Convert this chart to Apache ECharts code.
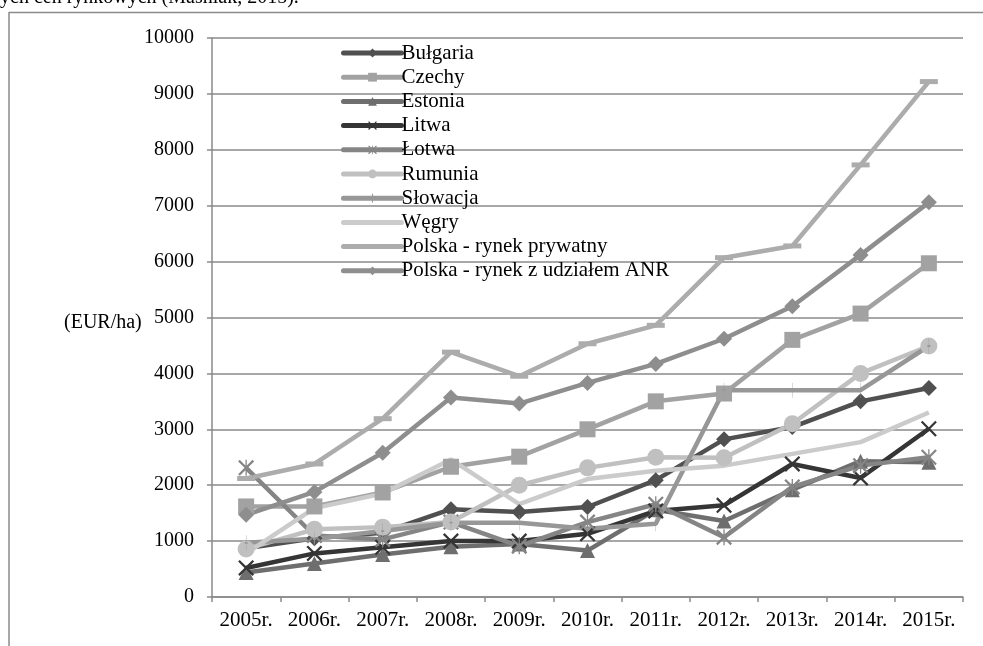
<!DOCTYPE html>
<html>
<head>
<meta charset="utf-8">
<script src="https://cdn.jsdelivr.net/npm/echarts@6/dist/echarts.min.js"></script>
<style>html,body{margin:0;padding:0;background:#fff;}#c{width:983px;height:646px;}</style>
</head>
<body>
<div id="c"></div>
<script>
const categories = ['2005r.','2006r.','2007r.','2008r.','2009r.','2010r.','2011r.','2012r.','2013r.','2014r.','2015r.'];
const seriesNames = ['Bułgaria','Czechy','Estonia','Litwa','Łotwa','Rumunia','Słowacja','Węgry','Polska - rynek prywatny','Polska - rynek z udziałem ANR'];
const bulgaria = [870, 1050, 1150, 1570, 1520, 1610, 2090, 2820, 3040, 3500, 3740];
const czechy = [1620, 1620, 1870, 2330, 2510, 3000, 3500, 3640, 4600, 5070, 5970];
const estonia = [440, 600, 760, 900, 950, 830, 1560, 1360, 1920, 2430, 2410];
const litwa = [520, 780, 890, 1000, 1000, 1130, 1540, 1640, 2380, 2130, 3010];
const lotwa = [2310, 1100, 1030, 1340, 910, 1340, 1660, 1070, 1970, 2350, 2500];
const rumunia = [860, 1210, 1250, 1340, 2000, 2310, 2500, 2490, 3100, 4000, 4490];
const slowacja = [970, 1040, 1180, 1330, 1330, 1220, 1310, 3700, 3700, 3700, 4490];
const wegry = [780, 1590, 1850, 2460, 1660, 2110, 2260, 2350, 2560, 2770, 3300];
const polskaPrywatny = [2120, 2380, 3190, 4380, 3950, 4530, 4860, 6070, 6280, 7730, 9220];
const polskaANR = [1470, 1880, 2580, 3570, 3460, 3830, 4170, 4620, 5200, 6120, 7060];
const yTicks = [0, 1000, 2000, 3000, 4000, 5000, 6000, 7000, 8000, 9000, 10000];

const dataList = [bulgaria, czechy, estonia, litwa, lotwa, rumunia, slowacja, wegry, polskaPrywatny, polskaANR];
const colors = ['#505050','#a2a2a2','#6e6e6e','#353535','#858585','#c0c0c0','#979797','#cbcbcb','#acacac','#8e8e8e'];
const X = 'path://M0,1L1,0L5,4L9,0L10,1L6,5L10,9L9,10L5,6L1,10L0,9L4,5Z';
const AST = 'path://M0,1L1,0L5,4L9,0L10,1L6,5L10,9L9,10L5,6L1,10L0,9L4,5Z M4.6,0H5.4V10H4.6Z';
const PLUS = 'path://M4.4,0H5.6V10H4.4Z M0,4.4H10V5.6H0Z';
const DASH = 'path://M0,0H16V4H0Z';
const symbols = ['diamond','rect','triangle',X,AST,'circle',PLUS,'none',DASH,'diamond'];
const sizes = [16, 16, 15, 16, 16, 17, [3,15], 0, [18,5], 16];

const font = '"Liberation Serif", "DejaVu Serif", serif';
const chart = echarts.init(document.getElementById('c'));
chart.setOption({
  animation: false,
  backgroundColor: '#fff',
  grid: {left: 212, right: 20, top: 38, bottom: 49},
  legend: {
    orient: 'vertical', left: 336, top: 36,
    itemWidth: 58, itemHeight: 11, itemGap: 0.2,
    lineStyle: {width: 5, cap: 'round'},
    textStyle: {fontFamily: font, fontSize: 21, color: '#000', padding: [0,0,0,-5], lineHeight: 24},
    data: seriesNames.map((n) => (n === 'Węgry' || n === 'Polska - rynek prywatny')
      ? {name: n, itemStyle: {opacity: 0}} : {name: n})
  },
  xAxis: {
    type: 'category', data: categories, boundaryGap: true,
    axisLine: {lineStyle: {color: '#8a8a8a', width: 1.5}},
    axisTick: {show: true, length: 5, lineStyle: {color: '#8a8a8a', width: 1.5}},
    axisLabel: {fontFamily: font, fontSize: 21, color: '#000', margin: 13, interval: 0}
  },
  yAxis: {
    type: 'value', min: 0, max: 10000, interval: 1000,
    axisLine: {show: true, lineStyle: {color: '#8a8a8a', width: 1.5}},
    axisTick: {show: true, length: 5, lineStyle: {color: '#8a8a8a', width: 1.5}},
    splitLine: {lineStyle: {color: '#8a8a8a', width: 1.5}},
    axisLabel: {fontFamily: font, fontSize: 20, color: '#000', margin: 18,
      customValues: yTicks, formatter: (v) => String(v)}
  },
  graphic: [
    {type: 'line', shape: {x1: 9, y1: 12.5, x2: 983, y2: 12.5}, style: {stroke: '#8a8a8a', lineWidth: 1.5}},
    {type: 'line', shape: {x1: 9, y1: 12, x2: 9, y2: 646}, style: {stroke: '#8a8a8a', lineWidth: 1.5}},
    {type: 'text', left: 0, top: -12, style: {text: 'ych cen rynkowych (Maśniak, 2015).', font: '20px "Liberation Serif", serif', fill: '#000'}},
    {type: 'text', left: 64, top: 313, style: {text: '(EUR/ha)', font: '20px "Liberation Serif", serif', fill: '#000'}}
  ],
  series: seriesNames.map((n, i) => ({
    name: n, type: 'line', data: dataList[i],
    symbol: symbols[i], symbolSize: sizes[i], showSymbol: symbols[i] !== 'none',
    lineStyle: {color: colors[i], width: 4.5},
    itemStyle: {color: colors[i]},
    z: 2
  }))
});
</script>
</body>
</html>
